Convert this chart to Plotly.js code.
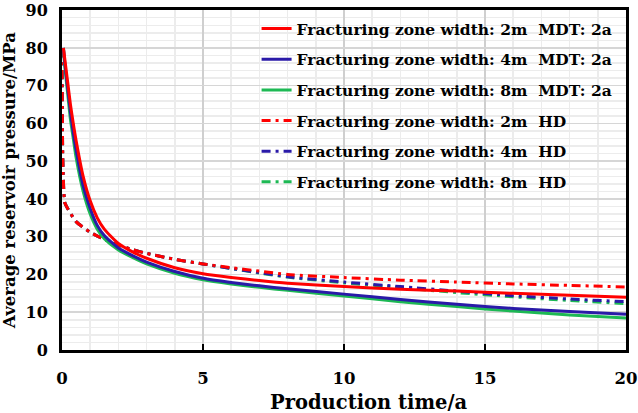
<!DOCTYPE html>
<html>
<head>
<meta charset="utf-8">
<script src="https://cdn.plot.ly/plotly-3.0.1.min.js"></script>
<style>html,body{margin:0;padding:0;background:#fff;}#chart{width:638px;height:413px;}</style>
</head>
<body>
<div id="chart"></div>
<script>
// Production time (a) for MDT curves
var tMDT = [0.05, 0.1, 0.2, 0.3, 0.4, 0.5, 0.75, 1, 1.25, 1.5, 2, 2.5, 3, 4, 5, 6, 7, 8, 10, 12, 14, 16, 18, 20];
var mdt2m = [80, 77, 71, 65, 60, 55.5, 46, 39.5, 35, 32, 28.2, 26, 24.3, 21.8, 20.2, 19.2, 18.4, 17.7, 16.8, 16.1, 15.6, 15.0, 14.5, 14.0];
var mdt4m = [80, 76, 69.5, 63, 57.5, 53, 43.5, 37.5, 33, 30.3, 27, 25, 23.3, 20.8, 19, 17.9, 17, 16.2, 14.8, 13.4, 12.1, 11.0, 10.2, 9.5];
var mdt8m = [80, 75, 68, 61, 56, 51, 42, 36, 32, 29.5, 26.5, 24.5, 22.8, 20.3, 18.6, 17.5, 16.6, 15.8, 14.3, 12.8, 11.5, 10.3, 9.3, 8.5];
// Production time (a) for HD curves
var tHD = [0, 0.03, 0.1, 0.2, 0.5, 1, 1.5, 2, 2.5, 3, 4, 5, 6, 7, 8, 10, 12, 14, 16, 18, 20];
var hd2m = [80, 50, 39, 37.5, 34, 31.2, 29.3, 27.8, 26.6, 25.6, 24, 22.8, 21.8, 20.9, 20.0, 19.2, 18.5, 18.0, 17.5, 17.1, 16.7];
var hd4m = [80, 50, 39, 37.5, 34, 31.2, 29.3, 27.8, 26.6, 25.6, 24, 22.8, 21.6, 20.5, 19.4, 18.0, 16.8, 15.6, 14.4, 13.5, 12.8];
var hd8m = [80, 50, 39, 37.5, 34, 31.2, 29.3, 27.8, 26.6, 25.6, 24, 22.8, 21.6, 20.4, 19.3, 17.8, 16.5, 15.2, 14.1, 13.1, 12.3];
var names = [
  "Fracturing zone width: 2m\u00a0\u00a0MDT: 2a",
  "Fracturing zone width: 4m\u00a0\u00a0MDT: 2a",
  "Fracturing zone width: 8m\u00a0\u00a0MDT: 2a",
  "Fracturing zone width: 2m\u00a0\u00a0HD",
  "Fracturing zone width: 4m\u00a0\u00a0HD",
  "Fracturing zone width: 8m\u00a0\u00a0HD"
];
var xTitle = "Production time/a";
var yTitle = "Average reservoir pressure/MPa";
var colors = ["#ff0000", "#2a1aa8", "#1db954"];
var dd = "9px,5px,3px,5px";

function tr(x, y, i, dash) {
  return {x: x, y: y, name: names[i], mode: "lines", type: "scatter",
    line: {color: colors[i % 3], width: 3, dash: dash, shape: "spline", smoothing: 0.6},
    legendgroup: "g" + i, legendrank: i + 1};
}
var data = [
  tr(tHD, hd8m, 5, dd), tr(tHD, hd4m, 4, dd), tr(tHD, hd2m, 3, dd),
  tr(tMDT, mdt8m, 2, "solid"), tr(tMDT, mdt4m, 1, "solid"), tr(tMDT, mdt2m, 0, "solid")
];

var font = "'DejaVu Serif', serif";
var layout = {
  width: 638, height: 413,
  margin: {l: 62, r: 12, t: 10, b: 63},
  paper_bgcolor: "#fff", plot_bgcolor: "#fff",
  font: {family: font, color: "#000", size: 16, weight: "bold"},
  showlegend: true,
  legend: {x: 0.345, y: 0.994, xanchor: "left", yanchor: "top", bgcolor: "rgba(0,0,0,0)",
    font: {family: font, size: 15.5, color: "#000", weight: "bold"}, tracegroupgap: 7.5, traceorder: "grouped"},
  xaxis: {range: [0, 20], tickvals: [0, 5, 10, 15, 20], ticks: "inside", ticklen: 6, tickwidth: 2, tickcolor: "#000",
    showline: true, linecolor: "#000", linewidth: 3, mirror: true, zeroline: false,
    showgrid: true, gridcolor: "#cfcfcf", gridwidth: 1.5,
    minor: {dtick: 1, showgrid: true, gridcolor: "#ececec", gridwidth: 1.5},
    ticklabelstandoff: 11, ticklabeloverflow: "allow",
    tickfont: {family: font, size: 16.5, weight: "bold"}},
  yaxis: {range: [0, 90.05], tickvals: [0, 10, 20, 30, 40, 50, 60, 70, 80, 90], ticks: "", showline: true, linecolor: "#000", linewidth: 3, mirror: true, zeroline: false,
    showgrid: true, gridcolor: "#d6d6d6", gridwidth: 1.5,
    minor: {dtick: 2, showgrid: true, gridcolor: "#ececec", gridwidth: 1.5},
    ticklabelstandoff: 8, ticklabeloverflow: "allow",
    tickfont: {family: font, size: 16, weight: "bold"},
    title: {text: yTitle, font: {family: font, size: 16.5, weight: "bold"}, standoff: 6}},
  annotations: [{text: xTitle, xref: "paper", yref: "paper", x: 0.545, y: -0.153, xanchor: "center", yanchor: "middle",
    showarrow: false, font: {family: font, size: 19.5, weight: "bold", color: "#000"}}]
};
Plotly.newPlot("chart", data, layout, {displayModeBar: false, staticPlot: true});
</script>
</body>
</html>
